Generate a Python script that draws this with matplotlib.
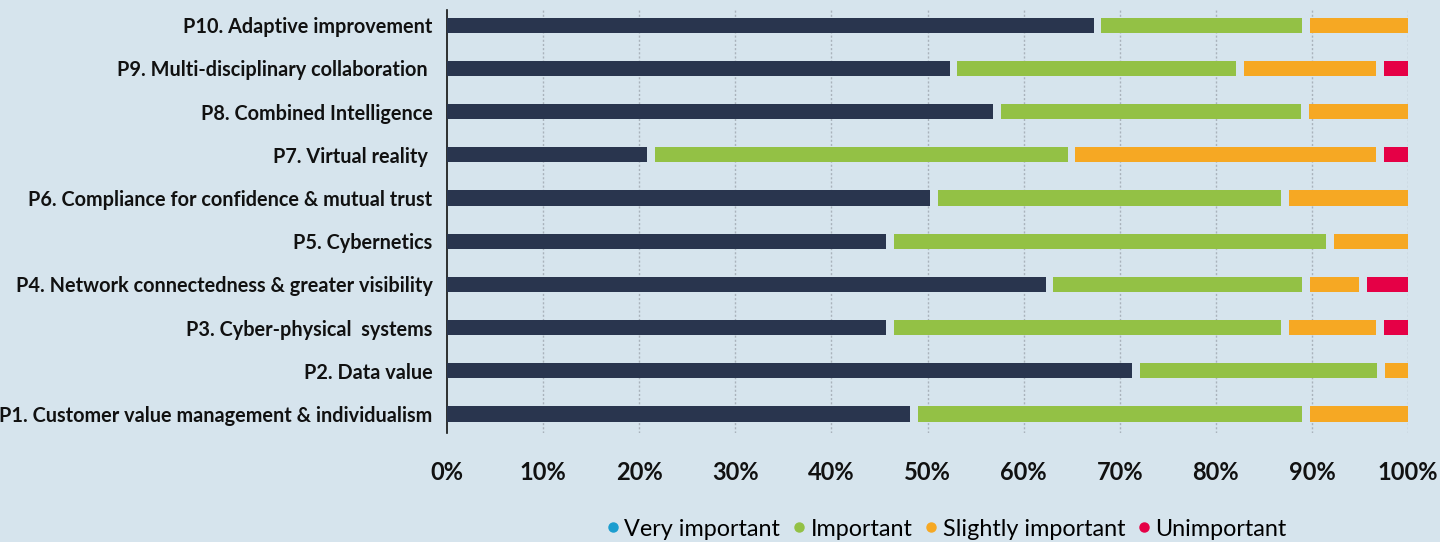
import matplotlib
matplotlib.use("Agg")
import matplotlib.pyplot as plt
from matplotlib.lines import Line2D
import numpy as np

categories = [
    "P1. Customer value management & individualism",
    "P2. Data value",
    "P3. Cyber-physical  systems",
    "P4. Network connectedness & greater visibility",
    "P5. Cybernetics",
    "P6. Compliance for confidence & mutual trust",
    "P7. Virtual reality ",
    "P8. Combined Intelligence",
    "P9. Multi-disciplinary collaboration ",
    "P10. Adaptive improvement",
]
very_important     = [48.6, 71.7, 46.1, 62.7, 46.1, 50.7, 21.2, 57.2, 52.7, 67.7]
important          = [40.8, 25.5, 41.1, 26.7, 45.8, 36.5, 43.8, 32.1, 29.8, 21.7]
slightly_important = [10.6,  2.8,  9.9,  5.9,  8.1, 12.8, 32.1, 10.7, 14.6, 10.6]
unimportant        = [ 0.0,  0.0,  2.9,  4.7,  0.0,  0.0,  2.9,  0.0,  2.9,  0.0]
series_names = ["Very important", "Important", "Slightly important", "Unimportant"]
x_ticks = [0, 10, 20, 30, 40, 50, 60, 70, 80, 90, 100]
x_tick_labels = ["0%", "10%", "20%", "30%", "40%", "50%", "60%", "70%", "80%", "90%", "100%"]

bar_colors = ["#29354e", "#93c145", "#f6a823", "#e50046"]
legend_colors = ["#1b9dcf", "#93c145", "#f6a823", "#e50046"]
bg = "#d6e4ed"

plt.rcParams['font.family'] = ['Lato', 'DejaVu Sans']

fig = plt.figure(figsize=(14.4, 5.42), dpi=100, facecolor=bg)
ax = fig.add_axes([447/1440, 1 - 433/542, (1408 - 447)/1440, (433 - 10)/542])
ax.set_facecolor(bg)

series = [very_important, important, slightly_important, unimportant]
y = np.arange(len(categories))
gap = 0.8
total = np.zeros(len(categories))
for vals, col in zip(series, bar_colors):
    vals = np.array(vals)
    for i in range(len(categories)):
        if vals[i] <= 0:
            continue
        start = total[i]
        end = total[i] + vals[i]
        l = start + (gap / 2 if start > 0.01 else 0)
        r = end - (gap / 2 if end < 99.5 else 0)
        ax.barh(y[i], r - l, left=l, height=0.35, color=col, zorder=3)
    total += vals

ax.set_xlim(0, 100)
ax.set_ylim(-0.44, 9.35)
ax.set_xticks(x_ticks)
ax.set_xticklabels(x_tick_labels, fontsize=17, fontweight='bold', color='#111111')
ax.set_yticks(y)
ax.set_yticklabels(categories, fontsize=14.3, fontweight='bold', color='#111111')
ax.tick_params(axis='x', length=0, pad=20)
ax.tick_params(axis='y', length=0, pad=10.5)

for xv in x_ticks[1:]:
    ax.axvline(xv, color='#a9b2bb', linestyle=(0, (1.5, 1.5)), linewidth=1.0, zorder=1)

for s in ['top', 'right', 'bottom']:
    ax.spines[s].set_visible(False)
ax.spines['left'].set_color('#111111')
ax.spines['left'].set_linewidth(1.2)

handles = [Line2D([0], [0], marker='o', linestyle='none', markersize=6.5,
                  markerfacecolor=c, markeredgecolor=c) for c in legend_colors]
fig.legend(handles, series_names, loc='center', bbox_to_anchor=(945/1440, 1 - 529/542),
           ncol=4, frameon=False, fontsize=16.8, handletextpad=0.1, columnspacing=0.4,
           handlelength=0.8)

fig.savefig("out.png", dpi=100, facecolor=bg)
